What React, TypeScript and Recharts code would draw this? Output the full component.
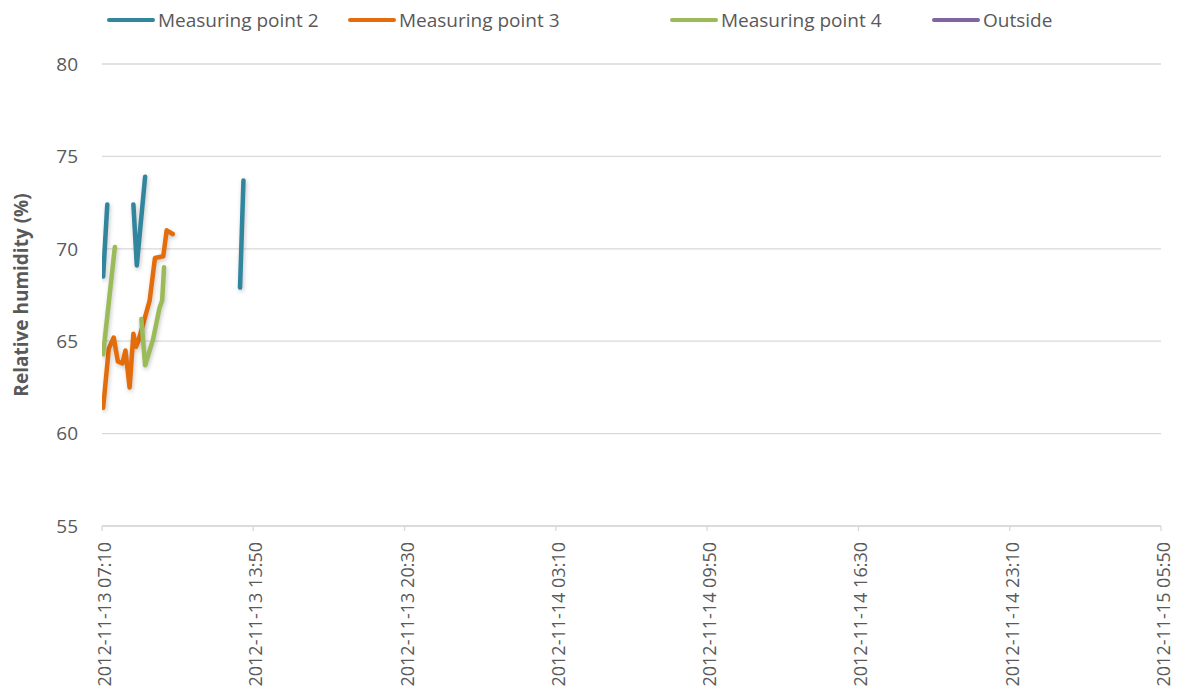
import React from "react";
import { LineChart, Line, XAxis, YAxis, CartesianGrid } from "recharts";

// minutes after 2012-11-13 07:10
const mp2Time = [3, 14, 40, 83, 92, 114, 240, 365, 374];
const mp2Value = [68.5, 72.4, null, 72.4, 69.1, 73.9, null, 67.9, 73.7];

const mp3Time = [3, 18, 31, 42, 54, 62, 73, 83, 90, 96, 126, 140, 162, 171, 187];
const mp3Value = [61.4, 64.6, 65.2, 63.9, 63.8, 64.5, 62.5, 65.4, 64.7, 65.0, 67.2, 69.5, 69.6, 71.0, 70.8];

const mp4Time = [3, 34, 70, 104, 114, 135, 152, 159, 164];
const mp4Value = [64.3, 70.1, null, 66.2, 63.7, 65.1, 66.8, 67.2, 69.0];

const outsideTime: number[] = [];
const outsideValue: (number | null)[] = [];

const xTicks = [0, 400, 800, 1200, 1600, 2000, 2400, 2800];
const yTicks = [55, 60, 65, 70, 75, 80];

const START = Date.UTC(2012, 10, 13, 7, 10);

const series = [
  { name: "Measuring point 2", color: "#31859c", time: mp2Time, value: mp2Value },
  { name: "Measuring point 3", color: "#e46c0a", time: mp3Time, value: mp3Value },
  { name: "Measuring point 4", color: "#9bbb59", time: mp4Time, value: mp4Value },
  { name: "Outside", color: "#8064a2", time: outsideTime, value: outsideValue },
];

const legendLeft = [107, 348, 670, 932];

const FONT = "'Open Sans', sans-serif";
const TEXT = "#595959";
const GRID = "#d9d9d9";

const pad = (n: number) => String(n).padStart(2, "0");
const formatTime = (m: number) => {
  const d = new Date(START + m * 60000);
  return `${d.getUTCFullYear()}-${pad(d.getUTCMonth() + 1)}-${pad(d.getUTCDate())} ${pad(
    d.getUTCHours()
  )}:${pad(d.getUTCMinutes())}`;
};

const toRows = (time: number[], value: (number | null)[]) =>
  time.map((t, i) => ({ t, v: value[i] }));

const XTick = (props: any) => {
  const { x, y, payload } = props;
  const tx = x + 2;
  const ty = y + 9;
  return (
    <text
      x={tx}
      y={ty}
      transform={`rotate(-90, ${tx}, ${ty})`}
      textAnchor="end"
      dominantBaseline="central"
      fontFamily={FONT}
      fontSize={18}
      fill={TEXT}
    >
      {formatTime(payload.value)}
    </text>
  );
};

const YLabel = (props: any) => {
  const { viewBox } = props;
  const cx = 21;
  const cy = viewBox.y + viewBox.height / 2;
  return (
    <text
      x={cx}
      y={cy}
      transform={`rotate(-90, ${cx}, ${cy})`}
      textAnchor="middle"
      dominantBaseline="central"
      fontFamily={FONT}
      fontSize={19}
      fontWeight="bold"
      fill={TEXT}
    >
      Relative humidity (%)
    </text>
  );
};

export default function App() {
  return (
    <div style={{ position: "absolute", left: 0, top: 0, width: 1181, height: 697, background: "#fff" }}>
      <style>{`.recharts-line-curve { filter: drop-shadow(1px 2px 2px rgba(0,0,0,0.22)); }`}</style>
      <LineChart width={1181} height={697} margin={{ top: 64, right: 20, left: 0, bottom: 0 }}>
        <CartesianGrid horizontal vertical={false} stroke={GRID} strokeWidth={1.3} />
        <XAxis
          dataKey="t"
          type="number"
          domain={[0, 2800]}
          ticks={xTicks}
          interval={0}
          allowDataOverflow
          height={171}
          axisLine={{ stroke: GRID, strokeWidth: 1.3 }}
          tickLine={{ stroke: GRID, strokeWidth: 1.3 }}
          tickSize={5}
          tick={<XTick />}
        />
        <YAxis
          type="number"
          domain={[55, 80]}
          ticks={yTicks}
          interval={0}
          width={102}
          axisLine={false}
          tickLine={false}
          tickMargin={18}
          tick={{ fontFamily: FONT, fontSize: 19, fill: TEXT }}
          label={<YLabel />}
        />
        {series.map((s) => (
          <Line
            key={s.name}
            data={toRows(s.time, s.value)}
            dataKey="v"
            name={s.name}
            type="linear"
            stroke={s.color}
            strokeWidth={4.5}
            strokeLinecap="round"
            strokeLinejoin="round"
            dot={false}
            activeDot={false}
            connectNulls={false}
            isAnimationActive={false}
          />
        ))}
      </LineChart>
      {series.map((s, i) => (
        <div
          key={s.name}
          style={{
            position: "absolute",
            left: legendLeft[i],
            top: 6,
            height: 28,
            display: "flex",
            alignItems: "center",
            fontFamily: FONT,
            fontSize: 19,
            color: TEXT,
            whiteSpace: "nowrap",
          }}
        >
          <span
            style={{
              display: "inline-block",
              width: 48,
              height: 4,
              borderRadius: 2,
              background: s.color,
              marginRight: 3,
            }}
          />
          {s.name}
        </div>
      ))}
    </div>
  );
}
